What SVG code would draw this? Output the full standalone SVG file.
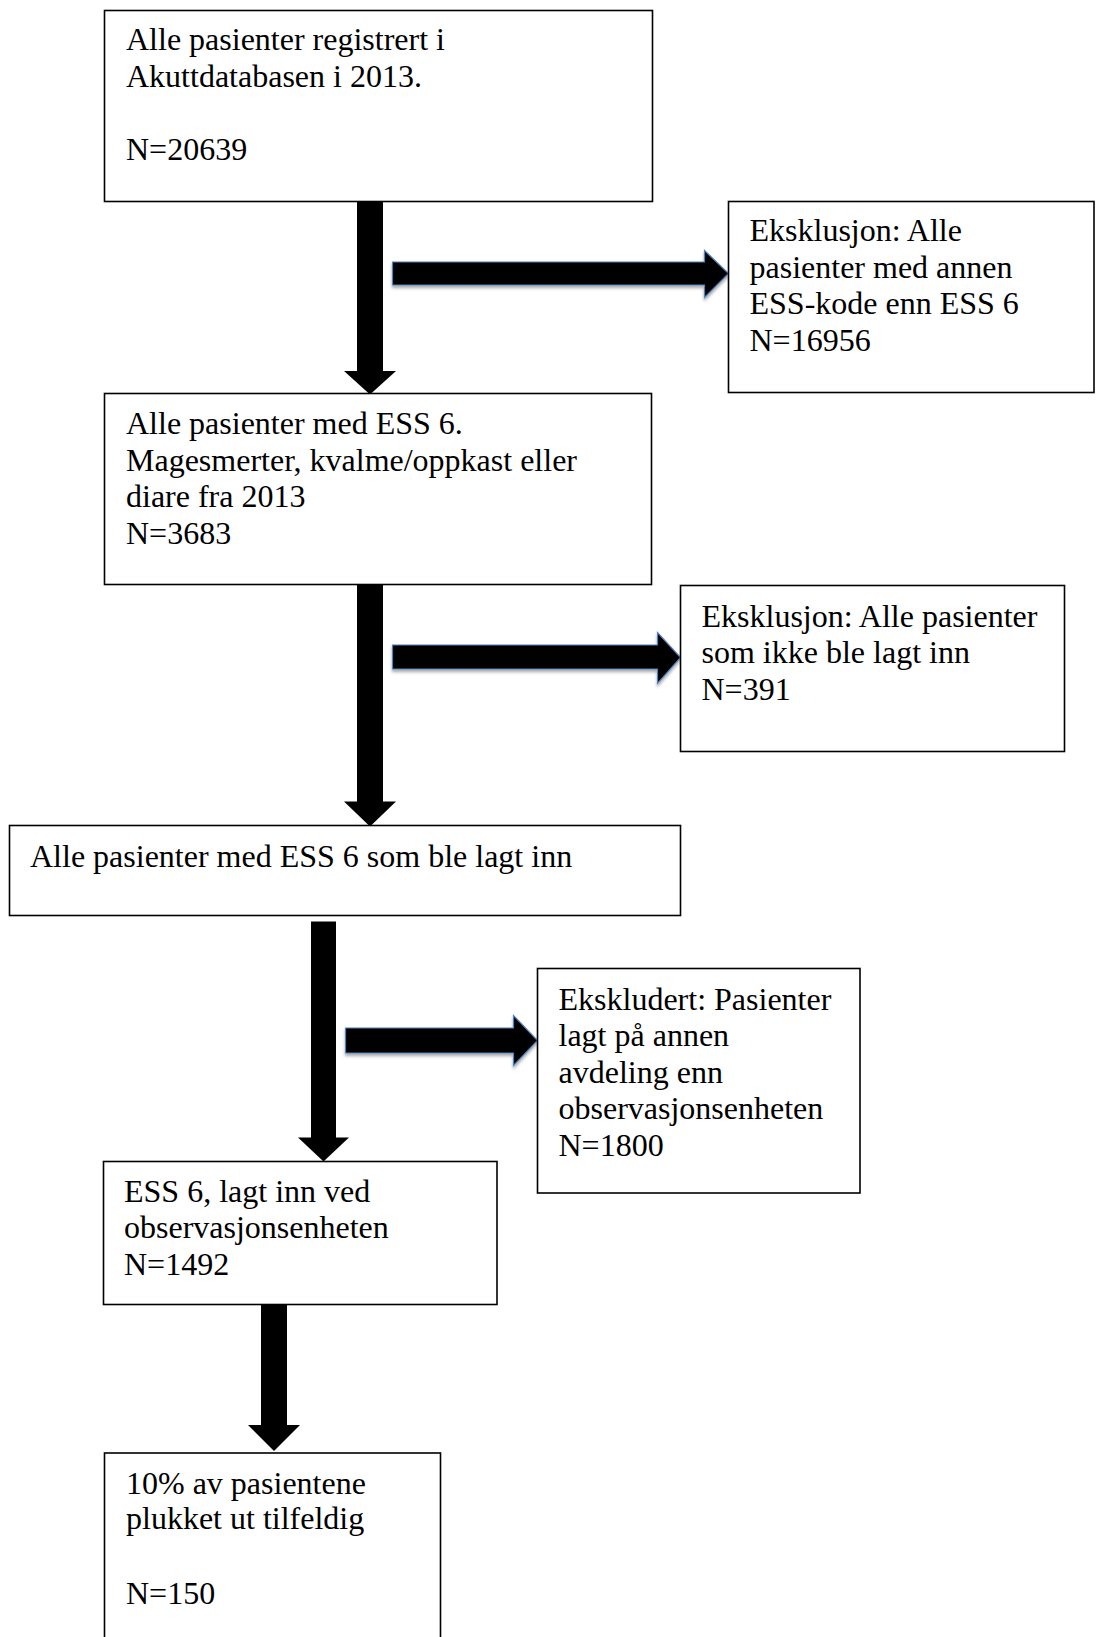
<svg xmlns="http://www.w3.org/2000/svg" width="1096" height="1637" viewBox="0 0 1096 1637">
<defs>
<style>
.box{fill:#fff;stroke:#000;stroke-width:1.6}
.t{font-family:"Liberation Serif","Times New Roman",serif;font-size:32px;fill:#000}
.va{fill:#000}
.ha{fill:#000;stroke:#4f81bd;stroke-width:1.2;filter:url(#sh)}
</style>
<filter id="sh" x="-10%" y="-30%" width="120%" height="170%">
<feDropShadow dx="0" dy="2.5" stdDeviation="1.5" flood-color="#000" flood-opacity="0.35"/>
</filter>
</defs>
<rect width="1096" height="1637" fill="#fff"/>
<g id="connectors">
<polygon class="va" points="357,201 383,201 383,371 396,371 370,394.5 344,371 357,371"/>
<polygon class="va" points="357,584.5 383,584.5 383,801.5 396,801.5 370,826.5 344,801.5 357,801.5"/>
<polygon class="va" points="311,921.5 336,921.5 336,1137.5 349,1137.5 323.5,1161.5 298,1137.5 311,1137.5"/>
<polygon class="va" points="261,1305 287,1305 287,1425 300,1425 274,1451 248,1425 261,1425"/>
<polygon class="ha" points="392.5,262 704.5,262 704.5,250.5 728.5,273.5 704.5,297.5 704.5,285 392.5,285"/>
<polygon class="ha" points="392.5,645 657.5,645 657.5,632.5 680.5,657.5 657.5,683.5 657.5,669 392.5,669"/>
<polygon class="ha" points="345.5,1028 513.5,1028 513.5,1015.5 537.5,1040.5 513.5,1065.5 513.5,1053 345.5,1053"/>
</g>
<g id="n1">
<rect class="box" x="104.5" y="10.5" width="548" height="191"/>
<text class="t" x="126" y="50">Alle pasienter registrert i</text>
<text class="t" x="126" y="86.5">Akuttdatabasen i 2013.</text>
<text class="t" x="126" y="159.5">N=20639</text>
</g>
<g id="n2">
<rect class="box" x="728.5" y="201.5" width="365.5" height="191"/>
<text class="t" x="749.5" y="241">Eksklusjon: Alle</text>
<text class="t" x="749.5" y="277.5">pasienter med annen</text>
<text class="t" x="749.5" y="314">ESS-kode enn ESS 6</text>
<text class="t" x="749.5" y="350.5">N=16956</text>
</g>
<g id="n3">
<rect class="box" x="104.5" y="393.5" width="547" height="191"/>
<text class="t" x="126" y="434">Alle pasienter med ESS 6.</text>
<text class="t" x="126" y="470.5">Magesmerter, kvalme/oppkast eller</text>
<text class="t" x="126" y="507">diare fra 2013</text>
<text class="t" x="126" y="543.5">N=3683</text>
</g>
<g id="n4">
<rect class="box" x="680.5" y="585.5" width="384" height="166"/>
<text class="t" x="701.5" y="626.5">Eksklusjon: Alle pasienter</text>
<text class="t" x="701.5" y="663">som ikke ble lagt inn</text>
<text class="t" x="701.5" y="699.5">N=391</text>
</g>
<g id="n5">
<rect class="box" x="9.5" y="825.5" width="671" height="90"/>
<text class="t" x="30" y="866.5">Alle pasienter med ESS 6 som ble lagt inn</text>
</g>
<g id="n6">
<rect class="box" x="537.5" y="968.5" width="322.5" height="224.5"/>
<text class="t" x="558.5" y="1009.5">Ekskludert: Pasienter</text>
<text class="t" x="558.5" y="1046">lagt på annen</text>
<text class="t" x="558.5" y="1082.5">avdeling enn</text>
<text class="t" x="558.5" y="1119">observasjonsenheten</text>
<text class="t" x="558.5" y="1155.5">N=1800</text>
</g>
<g id="n7">
<rect class="box" x="103.5" y="1161.5" width="393.5" height="143"/>
<text class="t" x="124" y="1201.5">ESS 6, lagt inn ved</text>
<text class="t" x="124" y="1238">observasjonsenheten</text>
<text class="t" x="124" y="1274.5">N=1492</text>
</g>
<g id="n8">
<rect class="box" x="104.5" y="1453" width="336" height="210"/>
<text class="t" x="126" y="1493.5">10% av pasientene</text>
<text class="t" x="126" y="1529">plukket ut tilfeldig</text>
<text class="t" x="126" y="1604">N=150</text>
</g>
</svg>
